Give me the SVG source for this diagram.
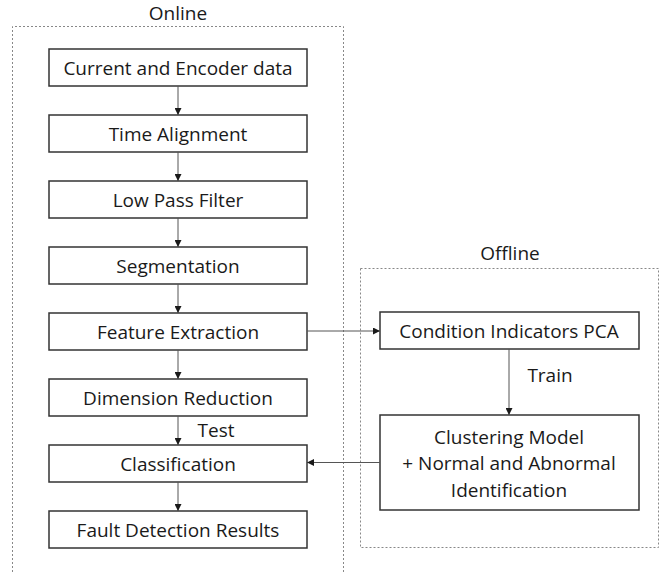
<svg xmlns="http://www.w3.org/2000/svg" width="661" height="573" viewBox="0 0 661 573">
<style>
.bg{fill:#ffffff}
.frame{fill:none;stroke:#888;stroke-width:1;stroke-dasharray:2 2}
.box rect{fill:#fff;stroke:#333;stroke-width:1.5}
text{font-family:"Open Sans","Noto Sans",sans-serif;font-size:19px;fill:#1a1a1a;text-anchor:middle}
.conn{fill:none;stroke:#555;stroke-width:1;marker-end:url(#ah)}
</style>
<defs>
<marker id="ah" viewBox="0 0 10 10" refX="10" refY="5" markerWidth="7" markerHeight="7" markerUnits="userSpaceOnUse" orient="auto">
<path d="M0,0 L10,5 L0,10 z" fill="#1a1a1a"/>
</marker>
</defs>
<rect class="bg" width="661" height="573"/>
<g id="online-frame">
<path class="frame" d="M12.5,576 V26.5 H343.5 V576"/>
<text x="178" y="19.5">Online</text>
</g>
<g id="offline-frame">
<rect class="frame" x="360.5" y="268.5" width="298" height="279"/>
<text x="510" y="260">Offline</text>
</g>
<g id="n1" class="box"><rect x="49" y="49" width="258" height="37"/><text x="178" y="74.5">Current and Encoder data</text></g>
<g id="n2" class="box"><rect x="49" y="115" width="258" height="37"/><text x="178" y="140.5">Time Alignment</text></g>
<g id="n3" class="box"><rect x="49" y="181" width="258" height="37"/><text x="178" y="206.5">Low Pass Filter</text></g>
<g id="n4" class="box"><rect x="49" y="247" width="258" height="37"/><text x="178" y="272.5">Segmentation</text></g>
<g id="n5" class="box"><rect x="49" y="313" width="258" height="37"/><text x="178" y="338.5">Feature Extraction</text></g>
<g id="n6" class="box"><rect x="49" y="379" width="258" height="37"/><text x="178" y="404.5">Dimension Reduction</text></g>
<g id="n7" class="box"><rect x="49" y="445" width="258" height="37"/><text x="178" y="470.5">Classification</text></g>
<g id="n8" class="box"><rect x="49" y="511" width="258" height="37"/><text x="178" y="536.5">Fault Detection Results</text></g>
<g id="n9" class="box"><rect x="380" y="312" width="259" height="37"/><text x="509" y="337.5">Condition Indicators PCA</text></g>
<g id="n10" class="box"><rect x="380" y="415" width="259" height="95"/>
<text x="509" y="444">Clustering Model</text>
<text x="509" y="470">+ Normal and Abnormal</text>
<text x="509" y="497">Identification</text></g>
<g id="connectors">
<path class="conn" d="M178,86 V115"/>
<path class="conn" d="M178,152 V181"/>
<path class="conn" d="M178,218 V247"/>
<path class="conn" d="M178,284 V313"/>
<path class="conn" d="M178,350 V379"/>
<path class="conn" d="M178,416 V445"/>
<path class="conn" d="M178,482 V511"/>
<path class="conn" d="M307,331 H380"/>
<path class="conn" d="M509,349 V415"/>
<path class="conn" d="M380,462.5 H307"/>
<text x="216" y="437">Test</text>
<text x="550" y="382">Train</text>
</g>
</svg>
